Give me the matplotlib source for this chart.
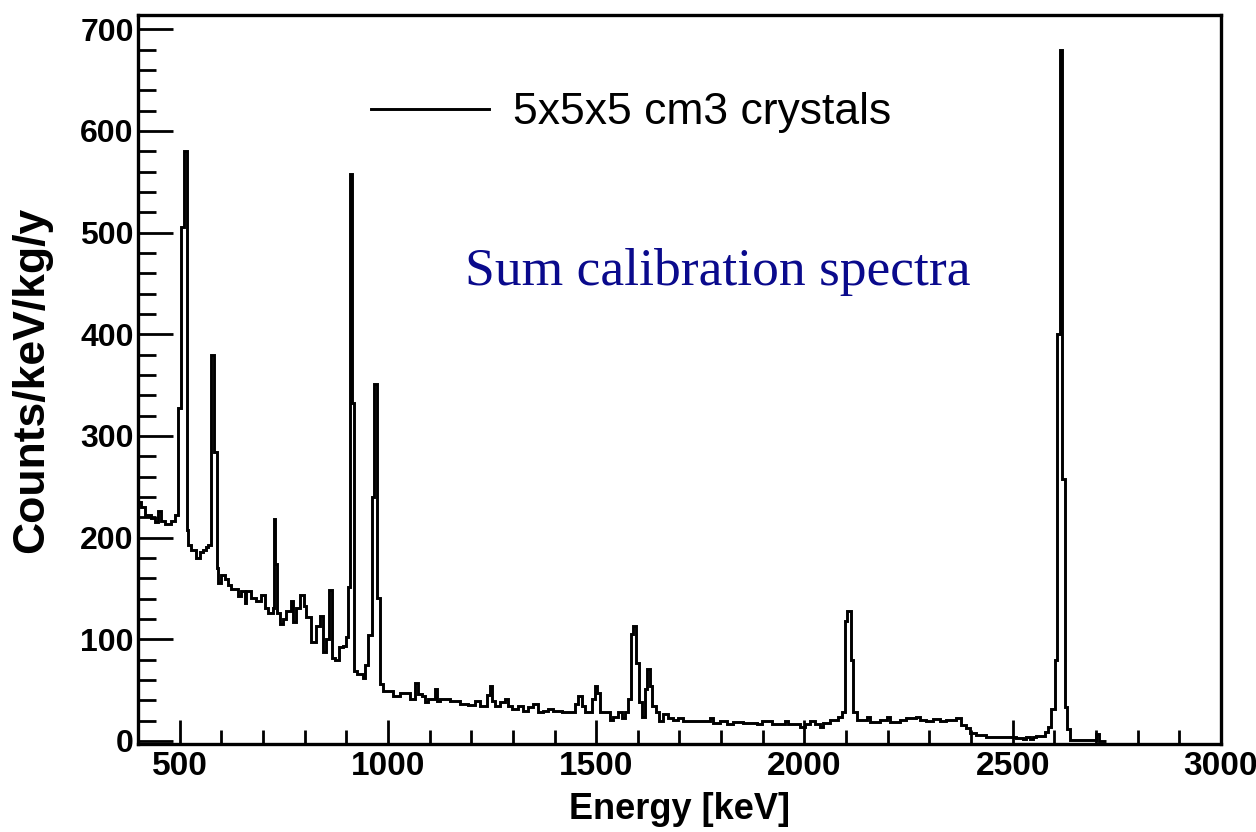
import matplotlib
matplotlib.use("Agg")
import matplotlib.pyplot as plt
from matplotlib.ticker import MultipleLocator

# summed calibration spectrum, lower bin edges in keV and counts/keV/kg/y
bin_lo = [400, 408, 416, 432, 440, 448, 456, 464, 480, 488, 496, 503, 510, 517, 520,
          528, 540, 548, 556, 564, 568, 574, 582, 589, 592, 598, 608, 616, 624, 640,
          648, 656, 660, 672, 684, 696, 704, 712, 724, 726, 730, 734, 740, 748, 756,
          768, 772, 780, 790, 798, 804, 816, 828, 836, 844, 852, 858, 866, 874, 882,
          892, 900, 904, 908, 913, 919, 926, 940, 946, 953, 961, 967, 974, 980, 989,
          1013, 1029, 1053, 1065, 1073, 1081, 1089, 1097, 1113, 1117, 1125, 1149, 1173, 1193, 1209,
          1221, 1237, 1245, 1251, 1257, 1269, 1281, 1289, 1297, 1313, 1325, 1337, 1349, 1361, 1373,
          1385, 1397, 1417, 1449, 1457, 1465, 1473, 1489, 1497, 1503, 1509, 1533, 1541, 1553, 1561,
          1569, 1577, 1583, 1589, 1595, 1603, 1611, 1617, 1623, 1629, 1635, 1643, 1651, 1661, 1673,
          1685, 1697, 1709, 1773, 1781, 1797, 1813, 1829, 1853, 1885, 1897, 1921, 1953, 1961, 1989,
          2001, 2013, 2025, 2037, 2045, 2061, 2081, 2089, 2097, 2103, 2111, 2117, 2125, 2149, 2157,
          2181, 2197, 2205, 2229, 2245, 2269, 2277, 2293, 2309, 2325, 2341, 2365, 2377, 2389, 2397,
          2413, 2437, 2509, 2525, 2533, 2541, 2549, 2557, 2577, 2585, 2593, 2601, 2607, 2613, 2619,
          2625, 2631, 2637, 2700, 2707]
counts = [235, 230, 222, 219, 215, 226, 216, 213, 216, 222, 327, 505, 580, 207, 193,
          188, 180, 186, 188, 191, 193, 380, 284, 170, 155, 163, 159, 153, 149, 143,
          147, 136, 147, 141, 138, 144, 131, 126, 131, 218, 174, 126, 115, 120, 128,
          138, 117, 131, 144, 133, 122, 97, 113, 123, 87, 100, 148, 82, 80, 92,
          93, 102, 151, 558, 332, 69, 66, 62, 75, 104, 240, 351, 141, 56, 49,
          44, 47, 41, 57, 46, 44, 38, 41, 51, 39, 41, 39, 36, 35, 39,
          34, 45, 54, 39, 34, 38, 41, 34, 31, 34, 29, 33, 36, 28, 29,
          31, 29, 28, 36, 44, 34, 28, 41, 54, 47, 28, 21, 24, 28, 23,
          28, 41, 105, 113, 77, 38, 24, 51, 71, 54, 34, 28, 20, 26, 23,
          21, 23, 20, 23, 18, 20, 17, 19, 18, 17, 20, 17, 20, 17, 14,
          17, 20, 17, 14, 18, 21, 24, 28, 118, 128, 80, 28, 21, 24, 19,
          21, 24, 19, 21, 23, 24, 21, 20, 22, 20, 21, 23, 16, 13, 8,
          6, 3.5, 3, 1.5, 3.5, 1.5, 3.5, 4.5, 9, 14, 31, 80, 400, 680, 258,
          33, 12, 0.5, 7, 0.3]
e_last = 2725

edges = bin_lo + [e_last]

fig = plt.figure(figsize=(12.56, 8.32), dpi=100)
ax = fig.add_axes([0.1099, 0.1058, 0.8622, 0.8762])

ax.stairs(counts, edges, color="black", linewidth=2.1, baseline=None,
          label="5x5x5 cm3 crystals")

ax.set_xlim(400, 3000)
ax.set_ylim(-3, 714)

ax.xaxis.set_major_locator(MultipleLocator(500))
ax.xaxis.set_minor_locator(MultipleLocator(100))
ax.yaxis.set_major_locator(MultipleLocator(100))
ax.yaxis.set_minor_locator(MultipleLocator(20))
ax.set_yticks(range(0, 701, 100))

for s in ax.spines.values():
    s.set_linewidth(2.4)

ax.tick_params(axis="y", which="major", direction="in", length=25, width=2.0, pad=3)
ax.tick_params(axis="y", which="minor", direction="in", length=13, width=2.0)
ax.tick_params(axis="x", which="major", direction="in", length=17, width=2.0, pad=5)
ax.tick_params(axis="x", which="minor", direction="in", length=10, width=2.0)

tick_font = ["Liberation Sans", "DejaVu Sans"]
for lab in ax.get_xticklabels() + ax.get_yticklabels():
    lab.set_family(tick_font)
    lab.set_fontweight("bold")
    lab.set_fontsize(24)
for lab in ax.get_yticklabels():
    lab.set_fontsize(23)

ax.set_xlabel("Energy [keV]", family=tick_font, fontweight="bold", fontsize=26, labelpad=7)
ax.set_ylabel("Counts/keV/kg/y", family=tick_font, fontweight="bold", fontsize=32, labelpad=20)

ax.legend(loc="center left", bbox_to_anchor=(0.215, 0.8656), frameon=False,
          borderpad=0, borderaxespad=0, handlelength=2.65, handletextpad=0.55,
          prop={"family": tick_font, "size": 32})

ax.text(0.302, 0.63, "Sum calibration spectra", transform=ax.transAxes,
        family=["Liberation Serif", "DejaVu Serif"], fontsize=38.5, color="#0a0a8c",
        va="baseline", ha="left")

fig.savefig("out.png", dpi=100)
